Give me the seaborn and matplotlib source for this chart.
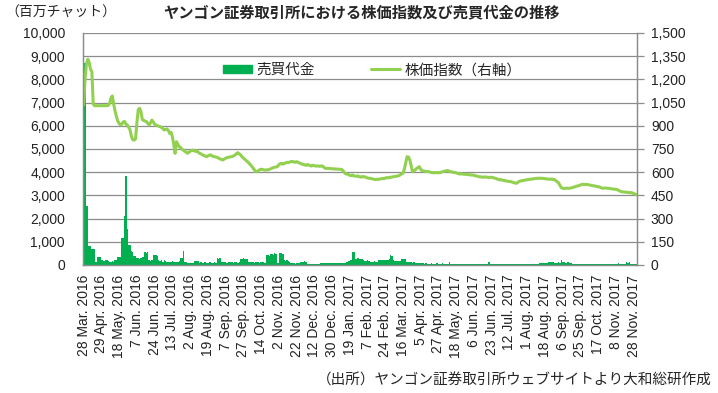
import seaborn as sns
import matplotlib.pyplot as plt
import pandas as pd
import numpy as np
from matplotlib.patches import Patch
from matplotlib.lines import Line2D


# YSX share price index (right axis), one value per trading day
index_vals = [
    1035, 1200, 1300, 1330, 1310, 1265, 1250, 1040, 1030, 1030, 1030, 1030, 1030, 1030, 1030, 1030, 1030, 1030, 1032, 1045,
    1080, 1093, 1040, 995, 960, 930, 915, 905, 912, 925, 928, 910, 905, 890, 873, 830, 810, 808, 815, 920,
    1005, 1013, 990, 940, 935, 930, 928, 915, 905, 920, 937, 925, 910, 905, 900, 898, 894, 890, 882, 873,
    876, 880, 870, 851, 858, 830, 780, 722, 797, 780, 765, 760, 748, 743, 735, 730, 722, 728, 735, 740,
    743, 738, 735, 740, 728, 722, 718, 712, 708, 705, 700, 705, 710, 712, 706, 702, 700, 698, 695, 690,
    686, 682, 679, 685, 690, 694, 696, 698, 700, 702, 706, 712, 720, 726, 718, 712, 700, 692, 684, 676,
    668, 660, 650, 640, 628, 615, 605, 603, 610, 616, 619, 618, 615, 614, 615, 615, 618, 622, 626, 630,
    632, 634, 636, 648, 655, 657, 652, 656, 660, 664, 662, 666, 668, 670, 666, 664, 668, 665, 660, 656,
    652, 650, 647, 644, 650, 646, 642, 640, 645, 642, 640, 640, 640, 638, 640, 640, 632, 625, 624, 625,
    624, 623, 622, 622, 621, 620, 620, 619, 619, 618, 610, 598, 590, 588, 585, 580, 578, 582, 576, 575,
    573, 576, 571, 568, 572, 570, 571, 566, 563, 560, 561, 558, 556, 554, 552, 555, 553, 556, 557, 560,
    558, 562, 565, 563, 566, 567, 569, 571, 572, 574, 575, 578, 583, 590, 593, 620, 660, 700, 698, 680,
    640, 603, 608, 615, 625, 630, 636, 618, 610, 608, 606, 605, 604, 603, 600, 598, 597, 596, 598, 597,
    596, 597, 600, 603, 605, 608, 610, 610, 606, 603, 600, 600, 598, 596, 592, 590, 588, 590, 588, 586,
    588, 585, 584, 583, 582, 582, 580, 577, 575, 573, 570, 570, 568, 567, 570, 568, 567, 566, 567, 567,
    565, 562, 560, 556, 553, 550, 552, 548, 546, 545, 543, 541, 540, 539, 536, 533, 530, 528, 533, 540,
    543, 545, 546, 548, 550, 551, 553, 554, 555, 556, 558, 559, 560, 561, 560, 561, 560, 560, 558, 557,
    556, 555, 554, 556, 553, 552, 545, 538, 532, 515, 500, 496, 495, 496, 497, 496, 496, 498, 500, 503,
    506, 509, 511, 514, 517, 520, 522, 521, 520, 521, 519, 517, 515, 513, 512, 510, 508, 506, 505, 500,
    496, 497, 498, 497, 496, 496, 494, 492, 491, 490, 490, 487, 482, 478, 474, 473, 472, 471, 470, 469,
    468, 468, 466, 462, 459, 455,
]

# trading value (million kyat), one value per trading day
trade_value = [
    6600, 8700, 2550, 2550, 800, 800, 700, 700, 680, 150, 350, 330, 350, 200, 210, 180, 200, 220, 190, 150,
    140, 160, 130, 200, 210, 350, 330, 350, 1150, 1150, 2100, 3850, 1550, 850, 850, 600, 580, 400, 380, 300,
    300, 280, 300, 350, 350, 550, 520, 550, 200, 180, 200, 450, 430, 450, 400, 200, 180, 200, 150, 200,
    180, 150, 130, 150, 140, 160, 150, 130, 150, 140, 160, 300, 300, 620, 150, 120, 80, 70, 90, 80,
    80, 180, 170, 180, 160, 100, 110, 90, 100, 110, 100, 90, 110, 120, 100, 100, 110, 90, 300, 280,
    300, 150, 120, 110, 130, 100, 120, 110, 130, 120, 100, 110, 120, 100, 130, 280, 270, 300, 250, 260,
    280, 120, 130, 110, 120, 100, 110, 120, 130, 100, 110, 120, 130, 100, 420, 450, 400, 480, 490, 450,
    500, 480, 80, 70, 500, 520, 480, 200, 180, 200, 190, 150, 80, 70, 80, 60, 80, 70, 80, 150,
    140, 150, 160, 140, 50, 40, 50, 40, 50, 40, 50, 40, 50, 40, 80, 90, 80, 100, 80, 90,
    80, 100, 90, 80, 100, 90, 80, 90, 100, 80, 90, 80, 100, 120, 190, 180, 200, 550, 540, 250,
    260, 300, 250, 240, 250, 230, 190, 180, 200, 190, 150, 140, 150, 160, 140, 150, 220, 200, 230, 210,
    220, 200, 230, 210, 250, 440, 400, 200, 180, 190, 170, 180, 160, 250, 240, 260, 250, 150, 140, 120,
    130, 100, 120, 100, 90, 100, 80, 90, 100, 80, 60, 70, 60, 50, 60, 70, 60, 50, 60, 70,
    60, 50, 60, 70, 60, 50, 60, 50, 150, 50, 60, 50, 40, 50, 60, 50, 40, 50, 60, 50,
    40, 50, 60, 50, 40, 50, 60, 50, 40, 50, 60, 50, 40, 50, 60, 50, 40, 130, 50, 40,
    50, 60, 50, 40, 50, 60, 50, 40, 50, 60, 50, 40, 50, 60, 50, 40, 50, 60, 50, 40,
    50, 60, 50, 40, 50, 60, 50, 40, 50, 60, 50, 40, 50, 60, 80, 90, 80, 100, 90, 80,
    100, 150, 120, 150, 140, 100, 90, 100, 120, 100, 200, 150, 150, 100, 90, 150, 100, 90, 60, 50,
    40, 50, 60, 50, 40, 50, 60, 50, 40, 50, 60, 50, 40, 50, 60, 50, 40, 50, 60, 50,
    40, 50, 60, 50, 40, 50, 60, 50, 40, 50, 60, 50, 100, 50, 40, 50, 60, 50, 120, 100,
    120, 60, 50, 40, 50, 60,
]

tick_labels = [
    "28 Mar. 2016", "29 Apr. 2016", "18 May. 2016", "7 Jun. 2016", "24 Jun. 2016",
    "13 Jul. 2016", "2 Aug. 2016", "19 Aug. 2016", "7 Sep. 2016", "27 Sep. 2016",
    "14 Oct. 2016", "2 Nov. 2016", "22 Nov. 2016", "12 Dec. 2016", "30 Dec. 2016",
    "19 Jan. 2017", "7 Feb. 2017", "24 Feb. 2017", "16 Mar. 2017", "5 Apr. 2017",
    "27 Apr. 2017", "18 May. 2017", "6 Jun. 2017", "23 Jun. 2017", "12 Jul. 2017",
    "1 Aug. 2017", "18 Aug. 2017", "6 Sep. 2017", "25 Sep. 2017", "17 Oct. 2017",
    "8 Nov. 2017", "28 Nov. 2017",
]

bar_label = "売買代金"
line_label = "株価指数（右軸）"
title = "ヤンゴン証券取引所における株価指数及び売買代金の推移"
unit = "（百万チャット）"
source = "（出所）ヤンゴン証券取引所ウェブサイトより大和総研作成"

n_days = len(index_vals)
df = pd.DataFrame({"day": np.arange(n_days), "value": trade_value, "index": index_vals})

bar_color = "#00B050"
line_color = "#92D050"
grid_color = "#8C8C8C"

sns.set_style("white")
plt.rcParams['font.family'] = ['Liberation Sans', 'Noto Sans CJK JP']

fig = plt.figure(figsize=(7.18, 3.93), dpi=100)
ax = fig.add_axes([83 / 718, 1 - 265 / 393, 554 / 718, 232 / 393])

sns.barplot(data=df, x="day", y="value", color=bar_color, saturation=1,
            width=1.0, errorbar=None, linewidth=0, ax=ax)
ax.set_ylim(0, 10000)
ax.set_yticks(np.arange(0, 10001, 1000))
ax.set_yticklabels([f"{v:,}" for v in range(0, 10001, 1000)])
ax.set_xticks(np.arange(len(tick_labels)) * 13)
ax.set_xticklabels(tick_labels, rotation=90)
ax.set_xlim(-0.5, n_days - 0.5)
ax.set_xlabel("")
ax.set_ylabel("")
ax.yaxis.grid(True, color=grid_color, lw=0.9)
ax.set_axisbelow(True)
ax.tick_params(axis="x", length=0, pad=7, labelsize=10, colors="#222222")
ax.tick_params(axis="y", length=0, pad=13, labelsize=10, colors="#222222")

ax2 = ax.twinx()
sns.lineplot(data=df, x="day", y="index", color=line_color, linewidth=2.2, ax=ax2)
ax2.set_ylim(0, 1500)
ax2.set_yticks(np.arange(0, 1501, 150))
ax2.set_yticklabels([f"{v:,}" for v in range(0, 1501, 150)])
ax2.set_xlim(-0.5, n_days - 0.5)
ax2.set_ylabel("")
ax2.set_xlabel("")
ax2.tick_params(axis="y", length=5, width=0.9, color=grid_color, pad=5,
                labelsize=10, labelcolor="#222222")

for a in (ax, ax2):
    a.spines["top"].set_visible(False)
    for s in ("left", "right", "bottom"):
        a.spines[s].set_color(grid_color)
        a.spines[s].set_linewidth(0.9)

handles = [Patch(color=bar_color), Line2D([], [], color=line_color, lw=2.2)]
ax2.legend(handles, [bar_label, line_label], ncol=2, frameon=False, loc="center",
           bbox_to_anchor=(0.522, 0.84), fontsize=10.5, handlelength=2.0,
           handleheight=0.55, handletextpad=0.3, columnspacing=3.8)

fig.text(5 / 718, 1 - 13 / 393, unit, fontsize=10, ha="left", va="center")
fig.text(362 / 718, 1 - 13 / 393, title, fontsize=11, fontweight="bold", ha="center", va="center")
fig.text(712 / 718, 1 - 381 / 393, source, fontsize=10.5, ha="right", va="center")

fig.savefig("out.png", dpi=100)
